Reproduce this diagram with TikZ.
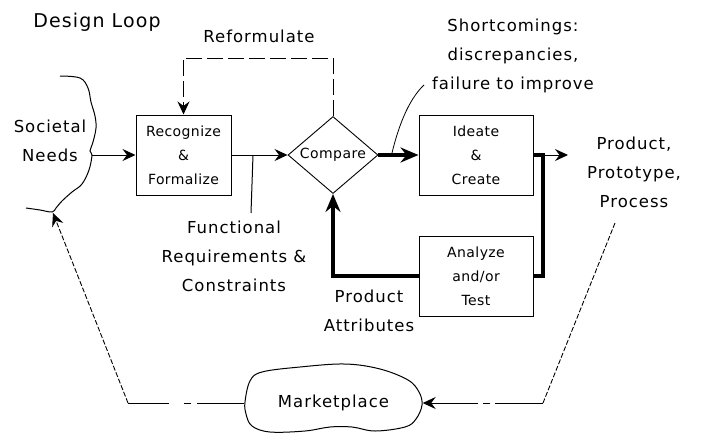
\documentclass[tikz,border=0pt]{standalone}
\usepackage{fontspec}
\setmainfont{DejaVu Sans}
\newfontfamily\lblfont[LetterSpace=6]{DejaVu Sans}
\newfontfamily\boxfont[LetterSpace=3]{DejaVu Sans}
\usetikzlibrary{arrows.meta,shapes.geometric}
\begin{document}
\begin{tikzpicture}[x=1pt,y=-1pt,
  lbl/.style={font=\lblfont\fontsize{16.5}{29}\selectfont, align=center, inner sep=0pt},
  blk/.style={draw, line width=1pt, align=center, inner sep=0pt,
    font=\boxfont\fontsize{14}{24}\selectfont},
  thinln/.style={line width=1pt},
  thickln/.style={line width=4pt},
  tipthin/.style={-{Stealth[length=13pt,width=12pt,inset=4.5pt]}},
  tipthick/.style={-{Stealth[length=18pt,width=15pt,inset=6pt]}},
  refdash/.style={line width=1pt, dash pattern=on 16pt off 5pt},
  finedash/.style={line width=0.9pt, dash pattern=on 5pt off 2pt},
  dashdotR/.style={line width=1pt, dash pattern=on 48pt off 5pt on 7pt off 5pt on 80pt off 1pt},
  dashdotL/.style={line width=1pt, dash pattern=on 47pt off 6pt on 7pt off 15pt on 80pt off 1pt},
  cloud/.style={line width=1pt}
]
\fill[white] (0,0) rectangle (701,434);
\useasboundingbox (0,0) rectangle (701,434);

% labels
\node[lbl, font=\lblfont\fontsize{19}{22}\selectfont] (title) at (97,22) {Design Loop};
\node[lbl] (reform) at (259,36) {Reformulate};
\node[lbl] (soc) at (50,141) {Societal\\Needs};
\node[lbl] (func) at (234,256) {Functional\\Requirements \&\\Constraints};
\node[lbl] (short) at (513,56) {Shortcomings:\\discrepancies,\\failure to improve};
\node[lbl] (prod) at (634,172) {Product,\\Prototype,\\Process};
\node[lbl] (attr) at (369,311) {Product\\Attributes};

% boxes
\node[blk, minimum width=95pt, minimum height=80pt] (rec) at (183.5,155) {Recognize\\\&\\Formalize};
\node[blk, minimum width=114pt, minimum height=80pt] (ide) at (476,155) {Ideate\\\&\\Create};
\node[blk, minimum width=114pt, minimum height=80pt] (ana) at (476,276) {Analyze\\and/or\\Test};
\node[diamond, draw, line width=0.9pt, inner sep=0pt, shape aspect=1.2,
  minimum width=90pt, minimum height=77pt,
  font=\boxfont\fontsize{14}{24}\selectfont] (cmp) at (333,155) {Compare};
\node[lbl, minimum width=178pt, minimum height=60pt] (mkt) at (333.5,403) {Marketplace};

% societal needs bracket
\draw[cloud] plot[smooth, tension=0.6] coordinates {(60,76) (80,78) (88,88) (91,102) (95,116) (96,128) (93,142) (90,151) (92,155) (89,170) (82,184) (72,192) (62,201) (56,208) (52,212) (40,210) (26,208)};
% marketplace cloud
\draw[cloud] plot[smooth cycle, tension=0.6] coordinates {(245,402) (250,381) (262,372) (300,367) (345,364) (380,369) (408,380) (419,392) (422,405) (416,419) (405,427) (375,431) (352,427) (330,427) (305,431) (270,432) (252,426) (246,414)};

% coordinates
\coordinate (needs) at (92,155);
\coordinate (needsbot) at (53,213);
\coordinate (fanout) at (543,155);
\coordinate (prodend) at (568,155);
\coordinate (fr1) at (253,155);
\coordinate (fr2) at (251,213);
\coordinate (sc1) at (392,153);
\coordinate (sc2) at (424,85);
\coordinate (pp1) at (615,223);
\coordinate (br) at (543,403);
\coordinate (bl) at (128,403);
\coordinate (refR) at (333,58);
\coordinate (refL) at (183.5,58);

% connectors
\draw[thinln, tipthin] (needs) -- (rec.west);
\draw[thinln, tipthin] (rec.east) -- (cmp.west);
\draw[thinln] (fr1) -- (fr2);
\draw[thickln, tipthick] (cmp.east) -- (ide.west);
\draw[thickln] (ide.east) -- (fanout) -- (fanout |- ana.east) -- (ana.east);
\draw[thinln, tipthin] (fanout) -- (prodend);
\draw[thickln, tipthick] (ana.west) -- (ana.west -| cmp.south) -- (cmp.south);
\draw[refdash, tipthin] (cmp.north) -- (refR) -- (refL) -- (rec.north);
\draw[line width=0.8pt] (sc1) .. controls (398,128) and (408,100) .. (sc2);
\draw[finedash] (pp1) -- (br);
\draw[dashdotR, tipthin] (br) -- (mkt.east);
\draw[dashdotL] (mkt.west) -- (bl);
\draw[finedash, tipthin] (bl) -- (needsbot);
\end{tikzpicture}
\end{document}
